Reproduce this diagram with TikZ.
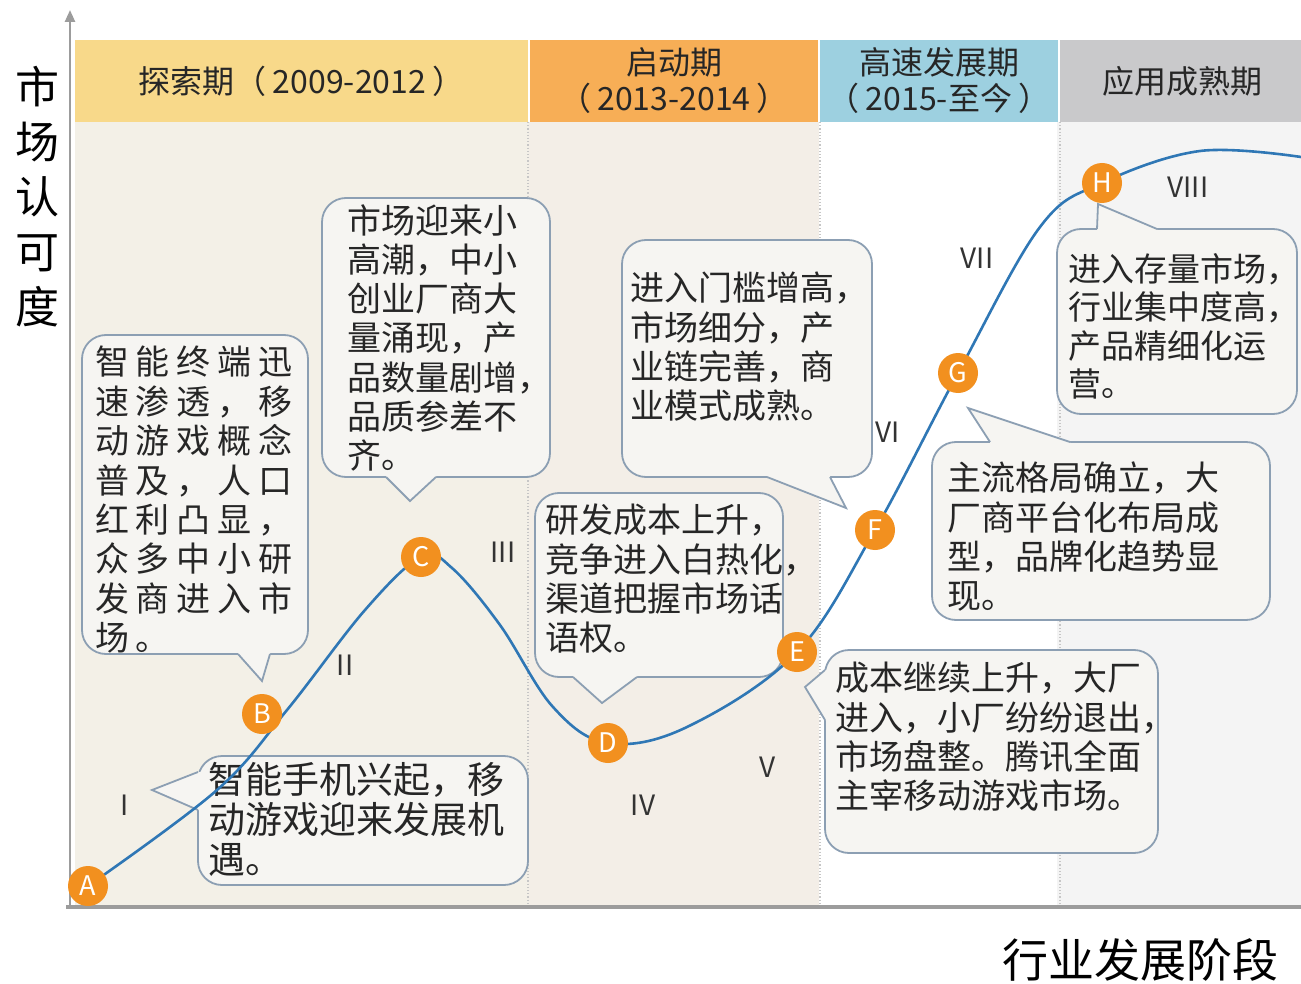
\documentclass[tikz,border=0pt]{standalone}
\usepackage{fontspec}
\setmainfont{Noto Sans CJK SC}
\newfontfamily\widecjk{Noto Sans CJK SC}[LetterSpace=20]
\usepackage{tikz}
\usetikzlibrary{arrows.meta, positioning}

\definecolor{hdyellow}{HTML}{F8D98A}
\definecolor{hdorange}{HTML}{F7AE56}
\definecolor{hdblue}{HTML}{9DD0E0}
\definecolor{hdgray}{HTML}{C9C9CB}
\definecolor{bgbeige}{HTML}{F3F0E7}
\definecolor{bgbeigeb}{HTML}{F3EEE7}
\definecolor{bglight}{HTML}{F4F4F4}
\definecolor{markorange}{HTML}{F2901F}
\definecolor{curveblue}{HTML}{2F77B5}
\definecolor{bubbleedge}{HTML}{8C9FB3}
\definecolor{bubblefill}{HTML}{F6F5F2}
\definecolor{axisgray}{HTML}{9C9C9C}

\begin{document}
\begin{tikzpicture}[x=1pt, y=-1pt,
	band/.style={anchor=north west, inner sep=0, outer sep=0, minimum height=82, align=center, font=\fontsize{32}{36}\selectfont, text=black!85},
	bubble/.style={draw=bubbleedge, line width=1.8, fill=bubblefill, rounded corners=24, anchor=north west, inner sep=0, outer sep=0},
	say/.style={anchor=north west, inner sep=0, align=left, font=\fontsize{34}{39.3}\selectfont, text=black!85},
	stage/.style={font=\fontsize{28}{30}\selectfont, text=black!80},
	marker/.style={circle, fill=markorange, text=white, minimum size=40, inner sep=0, font=\fontsize{27}{30}\selectfont},
	curve/.style={draw=curveblue, line width=2.6},
	sep/.style={draw=gray!45, line width=1.2, dotted}
	]
	\useasboundingbox (0,0) rectangle (1301,984);
	\clip (0,0) rectangle (1301,984);
	\fill[white] (0,0) rectangle (1301,984);

	% backgrounds of the four periods
	\fill[bgbeige] (75,122) rectangle (529,905);
	\fill[bgbeigeb] (529,122) rectangle (819,905);
	\fill[bglight] (1057,122) rectangle (1301,905);

	\node[band, fill=hdyellow, minimum width=453] (hdA) at (75,40) {探索期（\hspace{6pt}2009-2012\hspace{6pt}）};
	\node[band, fill=hdorange, minimum width=288] (hdB) at (530,40) {启动期\\（\hspace{6pt}2013-2014\hspace{6pt}）};
	\node[band, fill=hdblue, minimum width=238] (hdC) at (820,40) {高速发展期\\（\hspace{6pt}2015-至今\hspace{6pt}）};
	\node[band, fill=hdgray, minimum width=245] (hdD) at (1060,40) {应用成熟期};

	\draw[sep] (hdA.south east) -- ++(0,783);
	\draw[sep] (hdC.south west) -- ++(0,783);
	\draw[sep] (hdD.south west) -- ++(0,783);

	% axes
	\coordinate (origin) at (70,907);
	\coordinate (ytop) at (70,10);
	\coordinate (xend) at (1301,907);
	\draw[axisgray, line width=2.5, -{Triangle[length=12pt, width=10pt]}] (origin) -- (ytop);
	\draw[axisgray, line width=4] ([xshift=-4pt]origin) -- (xend);
	\node[align=center, font=\fontsize{44}{55}\selectfont] (ylabel) at (37,197) {市\\场\\认\\可\\度};
	\node[font=\fontsize{46}{50}\selectfont, anchor=east] (xlabel) at (1282,960) {行业发展阶段};

	% callouts
	\node[bubble, minimum width=330, minimum height=129] (bubI) at (198,756) {};
	\coordinate (tipI) at (152,790);
	\fill[bubblefill] (202,772) -- (198,772) -- (tipI) -- (198,810) -- (202,810) -- cycle;
	\draw[bubbleedge, line width=1.8] (198,772) -- (tipI) -- (198,810);
	\node[say, font=\fontsize{37}{40}\selectfont] (txtI) at (208,762) {智能手机兴起，移\\动游戏迎来发展机\\遇。};

	\node[bubble, minimum width=226, minimum height=319] (bubB) at (82,335) {};
	\coordinate (tipB) at (262,681);
	\fill[bubblefill] (238,650) -- (238,654) -- (tipB) -- (270,654) -- (270,650) -- cycle;
	\draw[bubbleedge, line width=1.8] (238,654) -- (tipB) -- (270,654);
	\node[say, font=\fontsize{34}{39.4}\widecjk] (txtB) at (95,346) {智能终端迅\\速渗透，移\\动游戏概念\\普及，人口\\红利凸显，\\众多中小研\\发商进入市\\场。};

	\node[bubble, minimum width=228, minimum height=279] (bubC) at (322,198) {};
	\coordinate (tipC) at (410,501);
	\fill[bubblefill] (386,473) -- (386,477) -- (tipC) -- (436,477) -- (436,473) -- cycle;
	\draw[bubbleedge, line width=1.8] (386,477) -- (tipC) -- (436,477);
	\node[say] (txtC) at (347,204) {市场迎来小\\高潮，中小\\创业厂商大\\量涌现，产\\品数量剧增，\\品质参差不\\齐。};

	\node[bubble, minimum width=248, minimum height=184] (bubD) at (535,493) {};
	\coordinate (tipD) at (602,703);
	\fill[bubblefill] (573,673) -- (573,677) -- (tipD) -- (637,677) -- (637,673) -- cycle;
	\draw[bubbleedge, line width=1.8] (573,677) -- (tipD) -- (637,677);
	\node[say] (txtD) at (545,504) {研发成本上升，\\竞争进入白热化，\\渠道把握市场话\\语权。};

	\node[bubble, minimum width=250, minimum height=237] (bubF) at (622,240) {};
	\coordinate (tipF) at (846,508);
	\fill[bubblefill] (767,473) -- (767,477) -- (tipF) -- (830,477) -- (830,473) -- cycle;
	\draw[bubbleedge, line width=1.8] (767,477) -- (tipF) -- (830,477);
	\node[say] (txtF) at (630,272) {进入门槛增高，\\市场细分，产\\业链完善，商\\业模式成熟。};

	\node[bubble, minimum width=333, minimum height=203] (bubE) at (825,650) {};
	\coordinate (tipE) at (805,687);
	\fill[bubblefill] (829,670) -- (825,670) -- (tipE) -- (825,720) -- (829,720) -- cycle;
	\draw[bubbleedge, line width=1.8] (825,670) -- (tipE) -- (825,720);
	\node[say] (txtE) at (835,662) {成本继续上升，大厂\\进入，小厂纷纷退出，\\市场盘整。腾讯全面\\主宰移动游戏市场。};

	\node[bubble, minimum width=338, minimum height=178] (bubG) at (932,442) {};
	\coordinate (tipG) at (968,408);
	\fill[bubblefill] (990,446) -- (990,442) -- (tipG) -- (1070,442) -- (1070,446) -- cycle;
	\draw[bubbleedge, line width=1.8] (990,442) -- (tipG) -- (1070,442);
	\node[say] (txtG) at (947,462) {主流格局确立，大\\厂商平台化布局成\\型，品牌化趋势显\\现。};

	\node[bubble, minimum width=240, minimum height=185] (bubH) at (1057,229) {};
	\coordinate (tipH) at (1098,204);
	\fill[bubblefill] (1097,233) -- (1097,229) -- (tipH) -- (1157,229) -- (1157,233) -- cycle;
	\draw[bubbleedge, line width=1.8] (1097,229) -- (tipH) -- (1157,229);
	\node[say, font=\fontsize{33}{38.5}\selectfont] (txtH) at (1068,253) {进入存量市场，\\行业集中度高，\\产品精细化运\\营。};

	% stages
	\node[stage] (sI) at (125,805) {I};
	\node[stage] (sII) at (345,665) {II};
	\node[stage] (sIII) at (503,552) {III};
	\node[stage] (sIV) at (643,805) {IV};
	\node[stage] (sV) at (768,767) {V};
	\node[stage] (sVI) at (888,432) {VI};
	\node[stage] (sVII) at (977,258) {VII};
	\node[stage] (sVIII) at (1188,187) {VIII};

	% the curve
	\coordinate (cA) at (88,886);
	\coordinate (cB) at (262,714);
	\coordinate (cC) at (421,557);
	\coordinate (cD) at (608,743);
	\coordinate (cE) at (797,652);
	\coordinate (cF) at (875,530);
	\coordinate (cG) at (958,373);
	\coordinate (cH) at (1102,183);
	\draw[curve] plot[smooth, tension=0.6] coordinates {(cA) (217,790) (287,710) (365,610) (cC) (452,568) (500,625) (553,707) (cD) (687,727) (cE) (cF) (cG) (1040,227) (cH) (1200,151) (1301,157)};

	\foreach \p in {A,B,C,D,E,F,G,H}
		\node[marker] (m\p) at (c\p) {\p};

\end{tikzpicture}
\end{document}
